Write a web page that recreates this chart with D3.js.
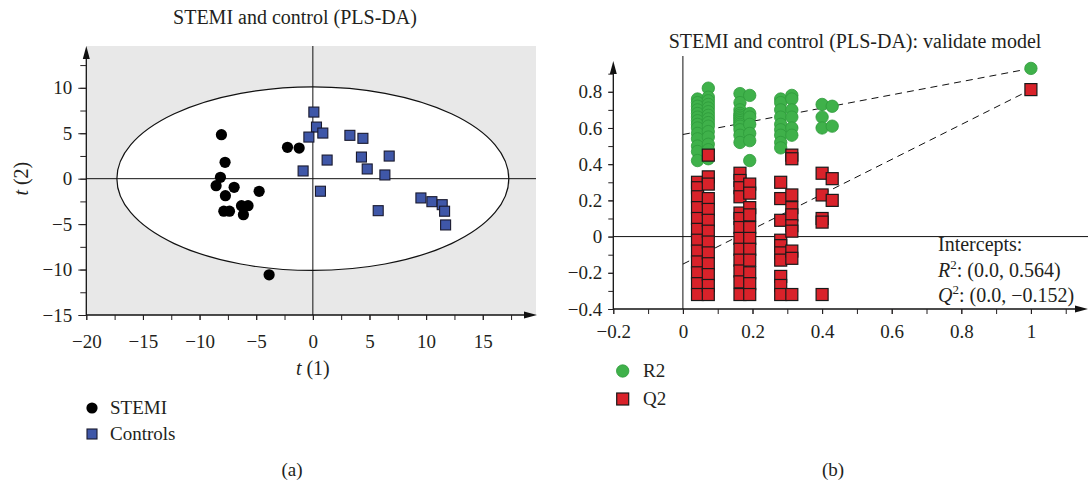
<!DOCTYPE html>
<html>
<head>
<meta charset="utf-8">
<script src="https://cdn.jsdelivr.net/npm/d3@7"></script>
<style>
  body { margin: 0; background: #fff; }
  svg text { font-family: "Liberation Serif", "DejaVu Serif", serif; fill: #231f20; }
</style>
</head>
<body>
<div id="chart"></div>
<script>
// ---- data: panel (a) PLS-DA scores ----
const stemiT1 = [-8.07, -7.75, -8.16, -8.54, -6.95, -7.72, -4.74, -6.3, -5.72, -7.86, -7.36, -6.13, -2.24, -1.21, -3.86];
const stemiT2 = [4.84, 1.8, 0.15, -0.77, -0.95, -1.87, -1.39, -2.97, -2.97, -3.58, -3.58, -3.96, 3.45, 3.37, -10.58];
const ctrlT1 = [0.09, 0.32, 0.88, -0.35, 3.27, 4.42, 1.26, 4.29, 6.74, 4.8, 6.36, -0.86, 0.67, 5.77, 9.54, 10.51, 11.42, 11.63, 11.72];
const ctrlT2 = [7.33, 5.68, 5.02, 4.58, 4.77, 4.44, 2.05, 2.38, 2.49, 1.07, 0.41, 0.85, -1.38, -3.52, -2.12, -2.53, -2.86, -3.58, -5.09];
const ellipseT1 = 17.3, ellipseT2 = 10.1;
const xTicksA = [-20, -15, -10, -5, 0, 5, 10, 15];
const yTicksA = [10, 5, 0, -5, -10, -15];

// ---- data: panel (b) permutation test ----
// each column: [correlation, list of values]
const r2Columns = [
  [0.042, [0.76, 0.74, 0.72, 0.70, 0.68, 0.66, 0.64, 0.62, 0.60, 0.57, 0.54, 0.50, 0.47, 0.42]],
  [0.073, [0.82, 0.77, 0.75, 0.73, 0.71, 0.69, 0.67, 0.65, 0.63, 0.61, 0.58, 0.55, 0.51, 0.48, 0.43]],
  [0.164, [0.79, 0.74, 0.70, 0.68, 0.67, 0.66, 0.65, 0.64, 0.63, 0.62, 0.61, 0.59, 0.56, 0.52]],
  [0.192, [0.78, 0.68, 0.66, 0.62, 0.57, 0.53, 0.42]],
  [0.281, [0.76, 0.74, 0.70, 0.66, 0.62, 0.59, 0.56, 0.52, 0.49]],
  [0.313, [0.78, 0.76, 0.70, 0.66, 0.60, 0.56]],
  [0.400, [0.73, 0.66, 0.60]],
  [0.429, [0.72, 0.61]]
];
const q2Columns = [
  [0.042, [0.30, 0.27, 0.22, 0.16, 0.10, 0.04, -0.02, -0.08, -0.14, -0.20, -0.26, -0.32]],
  [0.073, [0.45, 0.33, 0.29, 0.21, 0.15, 0.09, 0.03, -0.03, -0.09, -0.15, -0.21, -0.27, -0.32]],
  [0.164, [0.35, 0.31, 0.27, 0.22, 0.13, 0.10, 0.05, -0.01, -0.07, -0.13, -0.19, -0.25, -0.32]],
  [0.192, [0.29, 0.24, 0.16, 0.12, 0.05, -0.01, -0.07, -0.13, -0.20, -0.26, -0.32]],
  [0.281, [0.30, 0.21, 0.09, -0.02, -0.05, -0.09, -0.13, -0.22, -0.27, -0.32]],
  [0.313, [0.45, 0.43, 0.23, 0.16, 0.12, 0.06, 0.03, -0.08, -0.12, -0.32]],
  [0.400, [0.35, 0.23, 0.10, 0.08, -0.32]],
  [0.429, [0.32, 0.20]]
];
const r2Original = [1, 0.929];
const q2Original = [1, 0.812];
const r2Intercept = 0.564;
const q2Intercept = -0.152;
const xTicksB = [-0.2, 0, 0.2, 0.4, 0.6, 0.8, 1];
const yTicksB = [0.8, 0.6, 0.4, 0.2, 0, -0.2, -0.4];

const width = 1088, height = 483;
const fmt = d => d3.format("")(d);

const svg = d3.select("#chart").append("svg")
  .attr("width", width)
  .attr("height", height);

// arrow head helper
function arrow(g, x, y, dir) {
  let p;
  if (dir === "up") p = `M${x - 3.5},${y + 13}L${x},${y}L${x + 3.5},${y + 13}Z`;
  else p = `M${x - 13},${y - 3.5}L${x},${y}L${x - 13},${y + 3.5}Z`;
  g.append("path").attr("d", p).attr("fill", "#111");
}

function styleAxis(g) {
  g.select(".domain").remove();
  g.selectAll(".tick line").attr("stroke", "#231f20").attr("stroke-width", 1);
  g.selectAll("text").style("font-size", "19px").attr("fill", "#231f20");
}

// ================= panel (a) =================
const xA = d3.scaleLinear().domain([-20, 19.7]).range([86.3, 536]);
const yA = d3.scaleLinear().domain([-15, 14.6]).range([315, 46]);
const gA = svg.append("g");

gA.append("rect")
  .attr("x", xA(-20)).attr("y", yA(14.6))
  .attr("width", xA(19.7) - xA(-20)).attr("height", yA(-15) - yA(14.6))
  .attr("fill", "#e8e8e8");

gA.append("ellipse")
  .attr("cx", xA(0)).attr("cy", yA(0))
  .attr("rx", xA(ellipseT1) - xA(0)).attr("ry", yA(0) - yA(ellipseT2))
  .attr("fill", "#fff").attr("stroke", "#111").attr("stroke-width", 1.2);

gA.append("line")
  .attr("x1", xA(-20)).attr("x2", xA(19.7)).attr("y1", yA(0)).attr("y2", yA(0))
  .attr("stroke", "#111").attr("stroke-width", 1);
gA.append("line")
  .attr("x1", xA(0)).attr("x2", xA(0)).attr("y1", yA(14.6)).attr("y2", yA(-15))
  .attr("stroke", "#111").attr("stroke-width", 1);

gA.append("g").selectAll("circle")
  .data(d3.zip(stemiT1, stemiT2))
  .enter().append("circle")
  .attr("cx", d => xA(d[0])).attr("cy", d => yA(d[1]))
  .attr("r", 5.6).attr("fill", "#000");

gA.append("g").selectAll("rect")
  .data(d3.zip(ctrlT1, ctrlT2))
  .enter().append("rect")
  .attr("x", d => xA(d[0]) - 5).attr("y", d => yA(d[1]) - 5)
  .attr("width", 10).attr("height", 10)
  .attr("fill", "#3f57a8").attr("stroke", "#1a1a2e").attr("stroke-width", 1.1);

// axes
gA.append("line").attr("x1", xA(-20)).attr("x2", 533).attr("y1", yA(-15)).attr("y2", yA(-15))
  .attr("stroke", "#111").attr("stroke-width", 1.3);
arrow(gA, 537, yA(-15), "right");
gA.append("line").attr("x1", xA(-20)).attr("x2", xA(-20)).attr("y1", yA(-15)).attr("y2", 50)
  .attr("stroke", "#111").attr("stroke-width", 1.3);
arrow(gA, xA(-20), 46, "up");

gA.append("g").attr("transform", `translate(0,${yA(-15)})`)
  .call(d3.axisBottom(xA).tickValues(d3.range(-20, 18, 2.5)).tickSize(5).tickFormat(""))
  .call(styleAxis);
gA.append("g").attr("transform", `translate(0,${yA(-15)})`)
  .call(d3.axisBottom(xA).tickValues(xTicksA).tickSize(5).tickFormat(fmt))
  .call(styleAxis)
  .call(g => g.selectAll("text").attr("dy", null).attr("y", 33));
gA.append("g").attr("transform", `translate(${xA(-20)},0)`)
  .call(d3.axisLeft(yA).tickValues(d3.range(-15, 13, 2.5)).tickSize(6).tickFormat(""))
  .call(styleAxis);
gA.append("g").attr("transform", `translate(${xA(-20)},0)`)
  .call(d3.axisLeft(yA).tickValues(yTicksA).tickSize(8).tickPadding(6).tickFormat(fmt))
  .call(styleAxis);

gA.append("text").attr("x", 295).attr("y", 24).attr("text-anchor", "middle")
  .style("font-size", "20px").text("STEMI and control (PLS-DA)");
gA.append("text").attr("x", xA(0)).attr("y", 375).attr("text-anchor", "middle")
  .style("font-size", "20px")
  .html('<tspan font-style="italic">t</tspan> (1)');
gA.append("text").attr("transform", `translate(28,${yA(0)}) rotate(-90)`).attr("text-anchor", "middle")
  .style("font-size", "20px")
  .html('<tspan font-style="italic">t</tspan> (2)');

// legend (a)
gA.append("circle").attr("cx", 92).attr("cy", 408).attr("r", 5.6).attr("fill", "#000");
gA.append("text").attr("x", 110).attr("y", 414).style("font-size", "19px").text("STEMI");
gA.append("rect").attr("x", 87).attr("y", 429).attr("width", 10).attr("height", 10)
  .attr("fill", "#3f57a8").attr("stroke", "#1a1a2e").attr("stroke-width", 1.1);
gA.append("text").attr("x", 110).attr("y", 440).style("font-size", "19px").text("Controls");
gA.append("text").attr("x", 292).attr("y", 476).attr("text-anchor", "middle")
  .style("font-size", "19px").text("(a)");

// ================= panel (b) =================
const xB = d3.scaleLinear().domain([-0.2, 1.16]).range([613.3, 1086.6]);
const yB = d3.scaleLinear().domain([-0.4, 0.97]).range([309, 61]);
const gB = svg.append("g");

gB.append("line")
  .attr("x1", xB(-0.2)).attr("x2", width).attr("y1", yB(0)).attr("y2", yB(0))
  .attr("stroke", "#111").attr("stroke-width", 1);
gB.append("line")
  .attr("x1", xB(0)).attr("x2", xB(0)).attr("y1", 56).attr("y2", yB(-0.4))
  .attr("stroke", "#111").attr("stroke-width", 1);

// regression lines through intercepts
gB.append("line")
  .attr("x1", xB(0)).attr("y1", yB(r2Intercept))
  .attr("x2", xB(r2Original[0])).attr("y2", yB(r2Original[1]))
  .attr("stroke", "#111").attr("stroke-width", 1).attr("stroke-dasharray", "7,5");
gB.append("line")
  .attr("x1", xB(0)).attr("y1", yB(q2Intercept))
  .attr("x2", xB(q2Original[0])).attr("y2", yB(q2Original[1]))
  .attr("stroke", "#111").attr("stroke-width", 1).attr("stroke-dasharray", "7,5");

const r2Points = r2Columns.flatMap(c => c[1].map(v => [c[0], v])).concat([r2Original]);
const q2Points = q2Columns.flatMap(c => c[1].map(v => [c[0], v])).concat([q2Original]);

gB.append("g").selectAll("circle")
  .data(r2Points)
  .enter().append("circle")
  .attr("cx", d => xB(d[0])).attr("cy", d => yB(d[1]))
  .attr("r", 6.2)
  .attr("fill", "#3fb14a").attr("stroke", "#2e9a3b").attr("stroke-width", 0.8);

gB.append("g").selectAll("rect")
  .data(q2Points)
  .enter().append("rect")
  .attr("x", d => xB(d[0]) - 6).attr("y", d => yB(d[1]) - 6)
  .attr("width", 12).attr("height", 12)
  .attr("fill", "#d9222a").attr("stroke", "#1a1a1a").attr("stroke-width", 1.2);

// axes
gB.append("line").attr("x1", xB(-0.2)).attr("x2", 1080).attr("y1", yB(-0.4)).attr("y2", yB(-0.4))
  .attr("stroke", "#111").attr("stroke-width", 1.3);
arrow(gB, 1088, yB(-0.4), "right");
gB.append("line").attr("x1", xB(-0.2)).attr("x2", xB(-0.2)).attr("y1", yB(-0.4)).attr("y2", 66)
  .attr("stroke", "#111").attr("stroke-width", 1.3);
arrow(gB, xB(-0.2), 61, "up");

gB.append("g").attr("transform", `translate(0,${yB(-0.4)})`)
  .call(d3.axisBottom(xB).tickValues(d3.range(-2, 12).map(d => d / 10)).tickSize(5).tickFormat(""))
  .call(styleAxis);
gB.append("g").attr("transform", `translate(0,${yB(-0.4)})`)
  .call(d3.axisBottom(xB).tickValues(xTicksB).tickSize(5).tickFormat(fmt))
  .call(styleAxis)
  .call(g => g.selectAll("text").attr("dy", null).attr("y", 29));
gB.append("g").attr("transform", `translate(${xB(-0.2)},0)`)
  .call(d3.axisLeft(yB).tickValues(d3.range(-4, 10).map(d => d / 10)).tickSize(5).tickFormat(""))
  .call(styleAxis);
gB.append("g").attr("transform", `translate(${xB(-0.2)},0)`)
  .call(d3.axisLeft(yB).tickValues(yTicksB).tickSize(5).tickPadding(6).tickFormat(fmt))
  .call(styleAxis);

gB.append("text").attr("x", 855).attr("y", 48).attr("text-anchor", "middle")
  .style("font-size", "20px").text("STEMI and control (PLS-DA): validate model");

const intercepts = gB.append("g").style("font-size", "20px");
intercepts.append("text").attr("x", 938).attr("y", 251).text("Intercepts:");
intercepts.append("text").attr("x", 938).attr("y", 277)
  .html('<tspan font-style="italic">R</tspan><tspan dy="-8" font-size="13px">2</tspan><tspan dy="8">: (0.0, ' + fmt(r2Intercept) + ')</tspan>');
intercepts.append("text").attr("x", 938).attr("y", 302)
  .html('<tspan font-style="italic">Q</tspan><tspan dy="-8" font-size="13px">2</tspan><tspan dy="8">: (0.0, ' + fmt(q2Intercept) + ')</tspan>');

// legend (b)
gB.append("circle").attr("cx", 622.7).attr("cy", 371).attr("r", 6.2)
  .attr("fill", "#3fb14a").attr("stroke", "#2e9a3b").attr("stroke-width", 0.8);
gB.append("text").attr("x", 643).attr("y", 377).style("font-size", "19px").text("R2");
gB.append("rect").attr("x", 616.7).attr("y", 393).attr("width", 12).attr("height", 12)
  .attr("fill", "#d9222a").attr("stroke", "#1a1a1a").attr("stroke-width", 1.2);
gB.append("text").attr("x", 643).attr("y", 405).style("font-size", "19px").text("Q2");
gB.append("text").attr("x", 833).attr("y", 476).attr("text-anchor", "middle")
  .style("font-size", "19px").text("(b)");
</script>
</body>
</html>
